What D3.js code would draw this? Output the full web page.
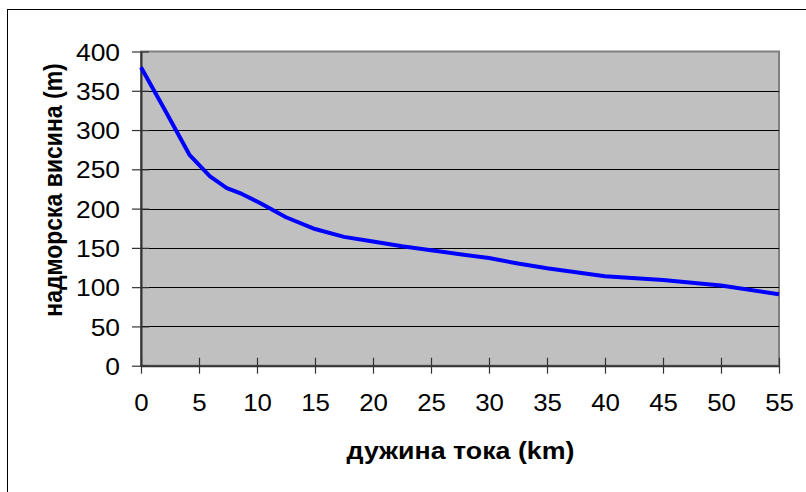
<!DOCTYPE html>
<html>
<head>
<meta charset="utf-8">
<script src="https://cdn.jsdelivr.net/npm/d3@7"></script>
<style>
  html, body { margin: 0; padding: 0; background: #fff; }
  svg { display: block; }
  text { font-family: "Liberation Sans", Arial, sans-serif; fill: #000; }
</style>
</head>
<body>
<svg id="chart" width="806" height="492"></svg>
<script>
// River longitudinal profile: distance along the stream (km) vs elevation (m)
const distanceKm = [0, 2, 4.2, 5.95, 7.4, 8.7, 10.3, 12.5, 15, 17.5, 20, 22.5, 25, 27.5, 30, 32.5, 35, 40, 45, 50, 55];
const elevationM = [380, 327, 268, 241, 226, 218.6, 206.7, 189, 174, 164, 158, 152, 147, 142, 137, 130, 124, 114, 109, 102, 91];
const xTicks = [0, 5, 10, 15, 20, 25, 30, 35, 40, 45, 50, 55];
const yTicks = [0, 50, 100, 150, 200, 250, 300, 350, 400];
const xTitle = "дужина тока (km)";
const yTitle = "надморска висина (m)";

const svg = d3.select("#chart");
const plot = { left: 141, right: 779, top: 51.5, bottom: 365.7 };

const x = d3.scaleLinear().domain([0, 55]).range([plot.left, plot.right]);
const y = d3.scaleLinear().domain([0, 400]).range([plot.bottom, plot.top]);

// chart frame
svg.append("rect")
  .attr("x", 7.5).attr("y", 9.5)
  .attr("width", 830).attr("height", 520)
  .attr("fill", "#fff").attr("stroke", "#000").attr("stroke-width", 1);

// plot area background
svg.append("rect")
  .attr("x", plot.left).attr("y", plot.top)
  .attr("width", plot.right - plot.left).attr("height", plot.bottom - plot.top)
  .attr("fill", "#c0c0c0").attr("stroke", "#808080").attr("stroke-width", 2);

// horizontal gridlines
svg.append("g").selectAll("line")
  .data(yTicks.filter(v => v > 0 && v < 400))
  .join("line")
  .attr("x1", plot.left).attr("x2", plot.right)
  .attr("y1", d => Math.round(y(d)) + 0.5).attr("y2", d => Math.round(y(d)) + 0.5)
  .attr("stroke", "#000").attr("stroke-width", 1);

// y axis
const yAxis = svg.append("g")
  .attr("transform", `translate(${plot.left},0)`)
  .call(d3.axisLeft(y).tickValues(yTicks).tickSizeInner(8).tickSizeOuter(0).tickPadding(12));
yAxis.select(".domain").attr("stroke", "#333").attr("stroke-width", 2);
yAxis.selectAll(".tick line").attr("stroke", "#333").attr("x1", 0).attr("x2", -9).attr("stroke-width", 1.2);
yAxis.selectAll(".tick line").clone().attr("x1", 0).attr("x2", 8).attr("stroke", "#333");
yAxis.selectAll(".tick text")
  .attr("x", null).attr("dy", null)
  .attr("transform", "translate(-21,0) scale(1.1,1)")
  .attr("dy", "0.36em")
  .style("font-size", "24px");

// x axis
const xAxis = svg.append("g")
  .attr("transform", `translate(0,${plot.bottom})`)
  .call(d3.axisBottom(x).tickValues(xTicks).tickSizeInner(8).tickSizeOuter(0).tickPadding(22));
xAxis.select(".domain").attr("stroke", "#333").attr("stroke-width", 2);
xAxis.selectAll(".tick line").attr("stroke", "#333").attr("y1", -8).attr("y2", 8).attr("stroke-width", 1.2);
xAxis.selectAll(".tick text")
  .attr("y", null).attr("dy", null)
  .attr("transform", "translate(0,29) scale(1.1,1)")
  .attr("dy", "0.71em")
  .style("font-size", "23.5px");

// profile line
const line = d3.line().x((d, i) => x(distanceKm[i])).y(d => y(d));
svg.append("path")
  .datum(elevationM)
  .attr("d", line)
  .attr("fill", "none")
  .attr("stroke", "#0000ff")
  .attr("stroke-width", 4)
  .attr("stroke-linejoin", "round");

// axis titles
svg.append("text")
  .attr("transform", "translate(460.5,459) scale(1.14,1)")
  .attr("text-anchor", "middle")
  .style("font-size", "23.5px").style("font-weight", "bold")
  .text(xTitle);

svg.append("text")
  .attr("transform", "translate(62,190) scale(1.15,1) rotate(-90)")
  .attr("text-anchor", "middle")
  .style("font-size", "23px").style("font-weight", "bold")
  .text(yTitle);
</script>
</body>
</html>
